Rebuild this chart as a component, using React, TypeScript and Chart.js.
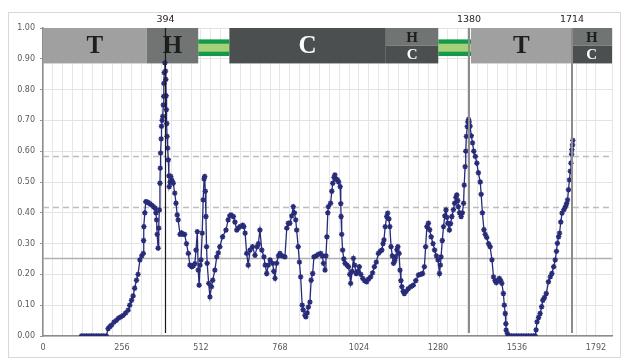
import React, { useEffect, useRef } from 'react';
import { Chart, registerables } from 'chart.js';

Chart.register(...registerables);

// ---- data ----
const positions = [
  125, 133, 141, 149, 157, 165, 173, 181, 189, 197,
  205, 211, 216, 222, 230, 238, 245, 252, 260, 268,
  276, 281, 287, 292, 297, 303, 308, 314, 320, 325,
  326, 327, 330, 333, 337, 341, 346, 352, 358, 363,
  366, 368, 370, 373, 375, 377, 379, 380, 381, 383,
  384, 386, 388, 390, 391, 392, 393, 395, 397, 398,
  399, 400, 401, 402, 404, 406, 408, 409, 412, 414,
  418, 422, 427, 431, 435, 438, 444, 449, 454, 459,
  465, 471, 476, 482, 487, 492, 496, 500, 503, 506,
  509, 512, 516, 519, 522, 524, 526, 528, 530, 532,
  537, 541, 546, 550, 557, 563, 568, 573, 582, 593,
  600, 605, 609, 617, 622, 628, 633, 638, 647, 651,
  655, 660, 665, 671, 679, 687, 694, 698, 703, 709,
  716, 720, 725, 730, 736, 744, 748, 752, 757, 763,
  768, 775, 784, 790, 795, 800, 806, 811, 815, 819,
  822, 827, 831, 835, 840, 843, 849, 852, 856, 860,
  865, 869, 874, 878, 885, 892, 900, 905, 909, 914,
  917, 920, 923, 925, 932, 936, 939, 943, 946, 950,
  954, 958, 963, 965, 966, 968, 971, 975, 979, 985,
  990, 994, 997, 1002, 1006, 1010, 1015, 1020, 1025, 1030,
  1036, 1042, 1049, 1055, 1062, 1068, 1074, 1080, 1087, 1093,
  1098, 1102, 1105, 1109, 1114, 1117, 1121, 1124, 1128, 1132,
  1136, 1140, 1143, 1147, 1150, 1154, 1157, 1160, 1163, 1167,
  1171, 1177, 1184, 1192, 1200, 1208, 1217, 1224, 1230, 1236,
  1240, 1244, 1249, 1253, 1258, 1264, 1269, 1275, 1280, 1285,
  1288, 1290, 1294, 1298, 1302, 1306, 1309, 1312, 1317, 1321,
  1325, 1330, 1334, 1338, 1341, 1344, 1346, 1350, 1355, 1359,
  1363, 1365, 1368, 1370, 1372, 1375, 1377, 1379, 1381, 1384,
  1388, 1392, 1396, 1401, 1406, 1411, 1417, 1420, 1424, 1429,
  1433, 1438, 1444, 1449, 1455, 1460, 1465, 1469, 1474, 1479,
  1483, 1487, 1492, 1495, 1498, 1500, 1501, 1505, 1510, 1518,
  1526, 1534, 1542, 1550, 1558, 1566, 1574, 1582, 1590, 1595,
  1598, 1601, 1606, 1611, 1616, 1620, 1625, 1631, 1638, 1644,
  1649, 1655, 1660, 1664, 1667, 1671, 1674, 1678, 1682, 1688,
  1693, 1697, 1700, 1703, 1706, 1709, 1711, 1713, 1714, 1716,
  1717,
];

const values = [
  0, 0, 0, 0, 0, 0, 0, 0, 0, 0,
  0, 0.024, 0.03, 0.035, 0.045, 0.051, 0.058, 0.062, 0.067, 0.075,
  0.084, 0.1, 0.116, 0.13, 0.155, 0.181, 0.2, 0.247, 0.26, 0.268,
  0.31, 0.355, 0.4, 0.436, 0.435, 0.433, 0.43, 0.425, 0.42, 0.415,
  0.4, 0.377, 0.33, 0.285, 0.35, 0.409, 0.496, 0.545, 0.594, 0.64,
  0.681, 0.7, 0.713, 0.75, 0.778, 0.82, 0.855, 0.887, 0.86, 0.833,
  0.78, 0.735, 0.69, 0.648, 0.61, 0.572, 0.52, 0.485, 0.5, 0.518,
  0.505, 0.496, 0.464, 0.431, 0.393, 0.377, 0.33, 0.335, 0.33, 0.33,
  0.3, 0.268, 0.23, 0.225, 0.228, 0.235, 0.279, 0.339, 0.214, 0.165,
  0.23, 0.247, 0.334, 0.442, 0.51, 0.518, 0.47, 0.388, 0.29, 0.236,
  0.171, 0.127, 0.16, 0.181, 0.214, 0.257, 0.27, 0.29, 0.322, 0.344,
  0.377, 0.39, 0.393, 0.388, 0.37, 0.344, 0.35, 0.355, 0.36, 0.355,
  0.334, 0.268, 0.23, 0.279, 0.29, 0.262, 0.29, 0.3, 0.344, 0.279,
  0.257, 0.23, 0.203, 0.23, 0.247, 0.236, 0.21, 0.187, 0.236, 0.26,
  0.268, 0.26, 0.257, 0.35, 0.366, 0.366, 0.39, 0.42, 0.4, 0.377,
  0.344, 0.29, 0.24, 0.192, 0.1, 0.085, 0.067, 0.062, 0.075, 0.094,
  0.11, 0.181, 0.203, 0.257, 0.26, 0.265, 0.268, 0.26, 0.236, 0.214,
  0.26, 0.322, 0.4, 0.42, 0.431, 0.47, 0.496, 0.515, 0.523, 0.51,
  0.507, 0.5, 0.485, 0.43, 0.388, 0.33, 0.279, 0.25, 0.236, 0.23,
  0.225, 0.2, 0.171, 0.21, 0.252, 0.23, 0.203, 0.21, 0.225, 0.2,
  0.187, 0.18, 0.176, 0.185, 0.192, 0.205, 0.225, 0.24, 0.268, 0.275,
  0.279, 0.3, 0.312, 0.355, 0.388, 0.399, 0.38, 0.355, 0.29, 0.26,
  0.236, 0.245, 0.257, 0.28, 0.29, 0.268, 0.214, 0.18, 0.16, 0.145,
  0.138, 0.145, 0.154, 0.16, 0.165, 0.18, 0.198, 0.2, 0.203, 0.225,
  0.29, 0.355, 0.366, 0.345, 0.322, 0.3, 0.279, 0.26, 0.247, 0.203,
  0.23, 0.257, 0.31, 0.355, 0.39, 0.409, 0.385, 0.366, 0.344, 0.365,
  0.388, 0.41, 0.431, 0.45, 0.458, 0.44, 0.42, 0.4, 0.388, 0.4,
  0.431, 0.49, 0.55, 0.6, 0.648, 0.68, 0.695, 0.703, 0.695, 0.681,
  0.65, 0.627, 0.6, 0.583, 0.561, 0.53, 0.5, 0.46, 0.4, 0.345,
  0.33, 0.32, 0.3, 0.29, 0.247, 0.192, 0.18, 0.173, 0.18, 0.187,
  0.18, 0.171, 0.138, 0.1, 0.073, 0.04, 0.019, 0.008, 0, 0,
  0, 0, 0, 0, 0, 0, 0, 0, 0, 0,
  0.02, 0.046, 0.06, 0.073, 0.095, 0.116, 0.125, 0.138, 0.176, 0.192,
  0.203, 0.225, 0.247, 0.275, 0.301, 0.322, 0.334, 0.37, 0.399, 0.41,
  0.42, 0.43, 0.442, 0.475, 0.507, 0.535, 0.561, 0.59, 0.605, 0.62,
  0.635,
];

// secondary-structure band along the top
const bandStarts = [0, 336, 503, 604, 1111, 1281, 1387, 1713];
const bandEnds = [336, 503, 604, 1111, 1281, 1387, 1713, 1844];
const bandKinds = ['T', 'H', 'G', 'C', 'HC', 'G', 'T', 'HC'];

// marked positions and threshold levels
const markedPositions = [394, 1380, 1714];
const markedLabels = ['394', '1380', '1714'];
const thresholdLevels = [0.254, 0.419, 0.585];

const xMin = 0;
const xMax = 1844;
const xMajorStep = 256;
const xMinorStep = 32;

const TICK_FONT = { family: '"DejaVu Sans", Verdana, sans-serif', size: 8 };
const SERIES_COLOR = '#272b78';

const overlayPlugin = {
  id: 'overlay',
  beforeDraw(chart: any) {
    const { ctx } = chart;
    ctx.save();
    ctx.fillStyle = '#ffffff';
    ctx.fillRect(0, 0, chart.width, chart.height);
    ctx.strokeStyle = '#d9d9d9';
    ctx.lineWidth = 1;
    ctx.strokeRect(8.5, 12.5, 612, 345);
    ctx.restore();
  },
  beforeDatasetsDraw(chart: any) {
    const { ctx, chartArea, scales } = chart;
    const x = scales.x;
    const y = scales.y;
    ctx.save();
    thresholdLevels.forEach((lv, i) => {
      const py = Math.round(y.getPixelForValue(lv)) + 0.5;
      ctx.beginPath();
      ctx.setLineDash(i === 0 ? [] : [6, 4]);
      ctx.strokeStyle = i === 0 ? '#b0b0b0' : '#bdbdbd';
      ctx.lineWidth = 1.5;
      ctx.moveTo(chartArea.left, py);
      ctx.lineTo(chartArea.right, py);
      ctx.stroke();
    });
    ctx.setLineDash([]);

    const top = y.getPixelForValue(1.0);
    const bot = y.getPixelForValue(0.885);
    const mid = y.getPixelForValue(0.943);
    const gOuterTop = y.getPixelForValue(0.963);
    const gOuterBot = y.getPixelForValue(0.909);
    const gInnerTop = y.getPixelForValue(0.949);
    const gInnerBot = y.getPixelForValue(0.923);
    const colT = '#9fa09f';
    const colH = '#707473';
    const colC = '#4b4f4f';
    ctx.textAlign = 'center';
    ctx.textBaseline = 'middle';
    bandKinds.forEach((k, i) => {
      const x0 = x.getPixelForValue(bandStarts[i]);
      const x1 = x.getPixelForValue(bandEnds[i]);
      const cx = (x0 + x1) / 2;
      if (k === 'G') {
        ctx.fillStyle = '#129a48';
        ctx.fillRect(x0, gOuterTop, x1 - x0, gOuterBot - gOuterTop);
        ctx.fillStyle = '#a8cf7a';
        ctx.fillRect(x0, gInnerTop, x1 - x0, gInnerBot - gInnerTop);
      } else if (k === 'HC') {
        ctx.fillStyle = colH;
        ctx.fillRect(x0, top, x1 - x0, mid - top);
        ctx.fillStyle = colC;
        ctx.fillRect(x0, mid, x1 - x0, bot - mid);
        ctx.font = 'bold 15px "Liberation Serif", serif';
        ctx.fillStyle = '#1e1e1e';
        ctx.fillText('H', cx, (top + mid) / 2 + 1);
        ctx.fillStyle = '#ffffff';
        ctx.fillText('C', cx, (mid + bot) / 2 + 1);
      } else {
        ctx.fillStyle = k === 'T' ? colT : k === 'H' ? colH : colC;
        ctx.fillRect(x0, top, x1 - x0, bot - top);
        ctx.font = 'bold 25px "Liberation Serif", serif';
        ctx.fillStyle = k === 'C' ? '#ffffff' : '#1e1e1e';
        ctx.fillText(k, cx, (top + bot) / 2 + 1);
      }
    });
    ctx.restore();
  },
  afterDatasetsDraw(chart: any) {
    const { ctx, scales } = chart;
    const x = scales.x;
    const y = scales.y;
    ctx.save();
    const top = y.getPixelForValue(1.0);
    const bottom = y.getPixelForValue(0.01);
    markedPositions.forEach((p, i) => {
      const px = Math.round(x.getPixelForValue(p)) + (i === 0 ? 0.5 : 0);
      ctx.beginPath();
      ctx.strokeStyle = i === 0 ? '#1a1a1a' : '#8c8c8c';
      ctx.lineWidth = i === 0 ? 1.2 : 2;
      ctx.moveTo(px, top);
      ctx.lineTo(px, bottom);
      ctx.stroke();
      ctx.font = '9.5px "DejaVu Sans", Verdana, sans-serif';
      ctx.fillStyle = '#262626';
      ctx.textAlign = 'center';
      ctx.textBaseline = 'middle';
      ctx.fillText(markedLabels[i], px, top - 8);
    });
    ctx.restore();
  },
};

export default function App() {
  const canvasRef = useRef<HTMLCanvasElement | null>(null);

  useEffect(() => {
    document.body.style.margin = '0';
    const canvas = canvasRef.current;
    if (!canvas) return;
    const points = positions.map((p, i) => ({ x: p, y: values[i] }));
    const chart = new Chart(canvas, {
      type: 'line',
      data: {
        datasets: [
          {
            data: points,
            borderColor: SERIES_COLOR,
            backgroundColor: SERIES_COLOR,
            borderWidth: 1.3,
            pointStyle: 'star',
            pointRadius: 2.7,
            pointBorderWidth: 1.4,
            pointBorderColor: SERIES_COLOR,
            pointBackgroundColor: SERIES_COLOR,
            tension: 0,
            fill: false,
          },
        ],
      },
      options: {
        responsive: false,
        animation: false,
        devicePixelRatio: 1,
        layout: { padding: { top: 28, right: 13, left: 0, bottom: 0 } },
        plugins: {
          legend: { display: false },
          tooltip: { enabled: false },
        },
        scales: {
          x: {
            type: 'linear',
            min: xMin,
            max: xMax,
            afterFit: (s: any) => {
              s.height = 22;
            },
            ticks: {
              stepSize: xMinorStep,
              autoSkip: false,
              maxRotation: 0,
              minRotation: 0,
              padding: 7,
              color: '#595959',
              font: TICK_FONT,
              callback: (v: any) => (Number(v) % xMajorStep === 0 ? String(v) : ''),
            },
            grid: {
              color: '#e6e6e6',
              lineWidth: 1,
              drawTicks: false,
            },
            border: { display: true, color: '#8c8c8c', width: 1.5 },
          },
          y: {
            min: 0,
            max: 1,
            afterFit: (s: any) => {
              s.width = 43;
            },
            ticks: {
              stepSize: 0.1,
              padding: 5,
              color: '#595959',
              font: TICK_FONT,
              callback: (v: any) => Number(v).toFixed(2),
            },
            grid: {
              color: '#e3e3e3',
              lineWidth: 1,
              tickLength: 3,
              tickColor: '#9a9a9a',
            },
            border: { display: true, color: '#8c8c8c', width: 1.5 },
          },
        },
      },
      plugins: [overlayPlugin],
    });
    return () => chart.destroy();
  }, []);

  return (
    <div style={{ width: 625, height: 358 }}>
      <canvas ref={canvasRef} width={625} height={358} />
    </div>
  );
}
